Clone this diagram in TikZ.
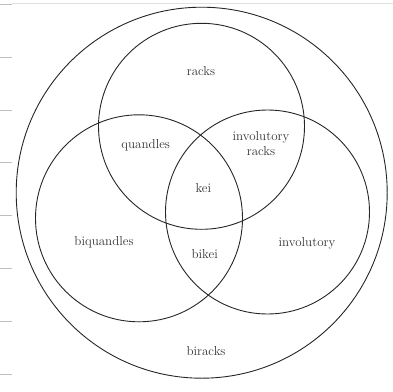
\documentclass[tikz,border=0pt]{standalone}
\begin{document}
\begin{tikzpicture}[x=1pt,y=-1pt,
  setcircle/.style={circle,draw=black!85,line width=0.9pt,inner sep=0pt,outer sep=0pt},
  lbl/.style={font=\fontsize{13}{15}\selectfont,text=black!80,align=center,inner sep=0pt},
  tick/.style={draw=black!25,line width=0.7pt}]
\useasboundingbox (0,0) rectangle (393,391);
% screenshot frame lines
\coordinate (t0) at (12,3); \coordinate (t1) at (393,3);
\draw[draw=black!12,line width=0.6pt] (t0) -- (t1);
\foreach \yy in {4.3,57.3,110,162.7,215.7,268.3,321,374}{
  \draw[tick] (0,\yy) -- (12,\yy);
}
% circles
\node[setcircle,minimum size=371pt] (outer) at (201.7,192.7) {};
\node[setcircle,minimum size=206pt] (top) at (201.5,126.3) {};
\node[setcircle,minimum size=207pt] (left) at (139,218.3) {};
\node[setcircle,minimum size=204pt] (right) at (267.5,212) {};
% labels
\node[lbl] (racks) at (201,71) {racks};
\node[lbl] (quandles) at (145.7,145) {quandles};
\node[lbl] (invracks) at (261,143.5) {involutory\\racks};
\node[lbl] (kei) at (203.3,188.3) {kei};
\node[lbl] (biquandles) at (104,242.3) {biquandles};
\node[lbl] (bikei) at (204.7,254) {bikei};
\node[lbl] (involutory) at (307,243.3) {involutory};
\node[lbl] (biracks) at (206,351) {biracks};
\end{tikzpicture}
\end{document}
